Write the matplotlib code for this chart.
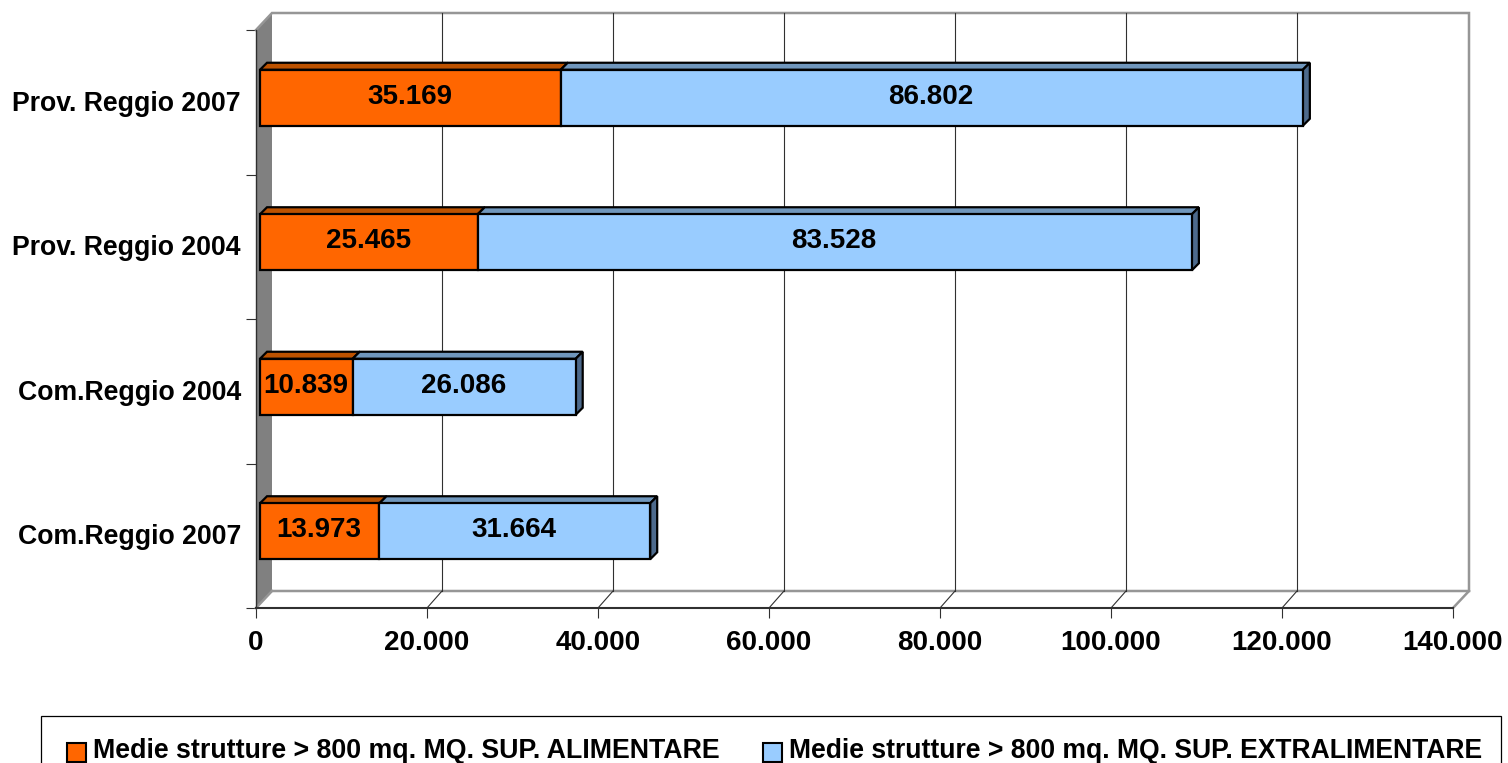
import matplotlib
matplotlib.use('Agg')
import matplotlib.pyplot as plt
from matplotlib.patches import Polygon, Rectangle

categories = ['Com.Reggio 2007', 'Com.Reggio 2004', 'Prov. Reggio 2004', 'Prov. Reggio 2007']
alimentare = [13973, 10839, 25465, 35169]
extralimentare = [31664, 26086, 83528, 86802]
xticks = [0, 20000, 40000, 60000, 80000, 100000, 120000, 140000]
xticklabels = ['0', '20.000', '40.000', '60.000', '80.000', '100.000', '120.000', '140.000']
legend_labels = ['Medie strutture > 800 mq. MQ. SUP. ALIMENTARE',
                 'Medie strutture > 800 mq. MQ. SUP. EXTRALIMENTARE']

W, H = 1508, 763
plt.rcParams['font.family'] = ['Liberation Sans', 'DejaVu Sans']
plt.rcParams['font.weight'] = 'bold'
plt.rcParams['font.size'] = 20

fig = plt.figure(figsize=(W / 100, H / 100), dpi=100, facecolor='white')
ax = fig.add_axes([256 / W, (H - 608) / H, 1197 / W, 578 / H])
ax.set_xlim(0, 140000)
ax.set_ylim(0, 4)
for s in ax.spines.values():
    s.set_visible(False)
ax.patch.set_visible(False)

# size of one pixel in data units, the fake 3d is all done with these
px = 140000 / 1197
py = 4 / 578
wall_dx, wall_dy = 16 * px, 17 * py
bar_dx, bar_dy = 4 * px, 4.5 * py
depth_x, depth_y = 7 * px, 7 * py
bar_h = 56 * py

GRAY = '#969696'
DARK = '#303030'

# side wall and back wall
ax.add_patch(Polygon([(0, 0), (wall_dx, wall_dy), (wall_dx, 4 + wall_dy), (0, 4)],
                     fc='#808080', ec='none', clip_on=False, zorder=1))
xmax = xticks[-1]
ax.plot([0, wall_dx, xmax + wall_dx, xmax + wall_dx, wall_dx],
        [4, 4 + wall_dy, 4 + wall_dy, wall_dy, wall_dy],
        color=GRAY, lw=1.8, clip_on=False, zorder=2, solid_joinstyle='miter')
ax.plot([0, wall_dx], [0, wall_dy], color=GRAY, lw=1.8, clip_on=False, zorder=2)
ax.plot([xmax, xmax + wall_dx], [0, wall_dy], color=GRAY, lw=1.8, clip_on=False, zorder=2)

# gridlines on the wall and the little diagonals on the floor
for t in xticks[1:-1]:
    ax.plot([t + wall_dx - 1 * px, t + wall_dx - 1 * px], [wall_dy, 4 + wall_dy], color=DARK, lw=0.8,
            clip_on=False, zorder=2)
    ax.plot([t, t + wall_dx - 1 * px], [0, wall_dy], color=DARK, lw=0.8, clip_on=False, zorder=2)


def bar_3d(y, left, width, front, top, side=None):
    x0 = left + bar_dx
    x1 = x0 + width
    yc = y + 0.5 + bar_dy
    y0, y2 = yc - bar_h / 2, yc + bar_h / 2
    ax.add_patch(Polygon([(x0, y2), (x1, y2), (x1 + depth_x, y2 + depth_y), (x0 + depth_x, y2 + depth_y)],
                         fc=top, ec='black', lw=1.6, clip_on=False, zorder=3))
    if side:
        ax.add_patch(Polygon([(x1, y0), (x1 + depth_x, y0 + depth_y), (x1 + depth_x, y2 + depth_y), (x1, y2)],
                             fc=side, ec='black', lw=1.6, clip_on=False, zorder=3))
    ax.barh(yc, width, bar_h, left=x0, color=front, edgecolor='black', lw=1.6, zorder=4, clip_on=False)
    label = f'{width:,}'.replace(',', '.')
    ax.text(x0 + width / 2 - 0.7 * px, yc + 1 * py, label, ha='center', va='center', color='black', zorder=5)


for i in range(len(categories)):
    bar_3d(i, 0, alimentare[i], '#FF6600', '#BD5200')
    bar_3d(i, alimentare[i], extralimentare[i], '#99CCFF', '#7097BD', '#4D6A8C')

# axes lines on the front plane
ax.plot([0, 0], [0, 4], color=DARK, lw=1.0, clip_on=False, zorder=6)
ax.plot([0, xmax], [0, 0], color=DARK, lw=1.5, clip_on=False, zorder=6)

ax.set_xticks(xticks)
ax.set_xticklabels(xticklabels)
ax.set_yticks(range(5))
ax.set_yticklabels([])
ax.set_yticks([i + 0.5 + 1.5 * py for i in range(4)], minor=True)
ax.set_yticklabels(categories, minor=True, fontsize=19.2)
ax.tick_params(axis='x', length=7.2, width=0.8, color=DARK, pad=8.7)
ax.tick_params(axis='y', which='major', length=7.2, width=0.8, color=DARK)
ax.tick_params(axis='y', which='minor', length=0, pad=10.8)

# legend, the box runs off the bottom of the picture
fig.add_artist(Rectangle((41 / W, -5 / H), 1460 / W, (H - 716 + 5) / H, transform=fig.transFigure,
                         fc='white', ec='black', lw=0.9))
swatches = [(67, '#FF6600'), (763, '#99CCFF')]
texts_x = [93, 789]
legend_sizes = [19.3, 19.1]
for (sx, c), tx, lab, fs in zip(swatches, texts_x, legend_labels, legend_sizes):
    fig.add_artist(Rectangle((sx / W, (H - 762) / H), 19 / W, 19 / H, transform=fig.transFigure,
                             fc=c, ec='black', lw=1.5))
    fig.text(tx / W, (H - 751) / H, lab, ha='left', va='center', fontsize=fs)

fig.savefig('out.png', dpi=100, facecolor='white')
